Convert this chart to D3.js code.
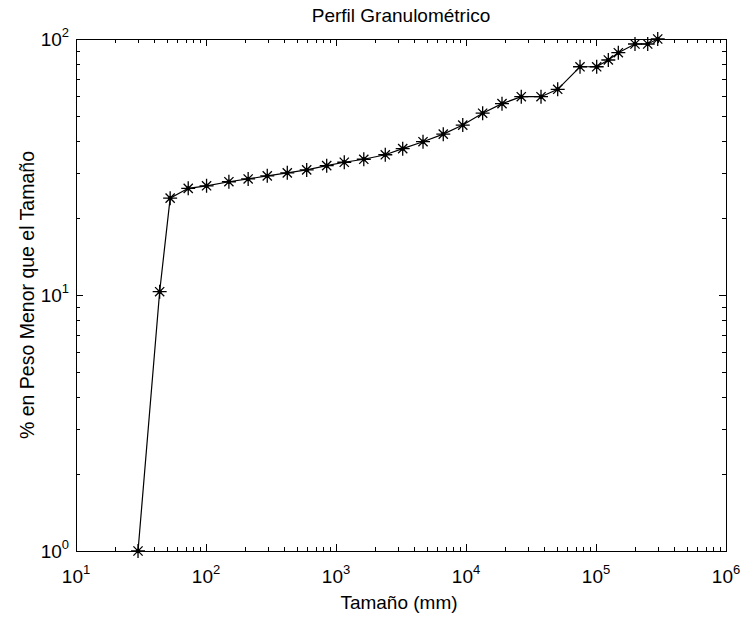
<!DOCTYPE html>
<html>
<head>
<meta charset="utf-8">
<script src="https://cdn.jsdelivr.net/npm/d3@7"></script>
<style>
	body { margin: 0; background: #fff; }
	text { font-family: "Liberation Sans", Arial, Helvetica, sans-serif; fill: #000; }
</style>
</head>
<body>
<div id="chart"></div>
<script>
	// sieve sizes (mm) and cumulative % passing
	const sizes = [30, 44, 53, 73, 101, 150, 211, 296, 422, 595, 848, 1158, 1636, 2394, 3259,
		4670, 6686, 9440, 13430, 18920, 26620, 37760, 50740, 75340, 101200, 124400, 148500,
		199500, 249900, 298400];
	const passing = [1.0, 10.3, 23.9, 26.1, 26.7, 27.7, 28.4, 29.2, 30.0, 30.8, 32.0, 33.0,
		33.9, 35.3, 37.3, 39.7, 42.5, 46.1, 51.3, 55.9, 59.5, 59.5, 63.6, 77.9, 77.9, 82.8,
		88.4, 95.6, 95.6, 100];
	const xExponents = [1, 2, 3, 4, 5, 6];
	const yExponents = [0, 1, 2];

	const width = 744, height = 619;
	const margin = { top: 39, right: 18, bottom: 68, left: 76 };

	const svg = d3.select("#chart").append("svg")
		.attr("width", width).attr("height", height);

	const xScale = d3.scaleLog()
		.domain([10, 1e6])
		.range([margin.left, width - margin.right]);
	const yScale = d3.scaleLog()
		.domain([1, 100])
		.range([height - margin.bottom, margin.top]);

	const x0 = xScale.range()[0], x1 = xScale.range()[1];
	const y0 = yScale.range()[0], y1 = yScale.range()[1];

	const xMajor = xExponents.map(e => Math.pow(10, e));
	const yMajor = yExponents.map(e => Math.pow(10, e));
	const xMinor = xScale.ticks().filter(v => !xMajor.some(m => Math.abs(m - v) < 1e-6 * m));
	const yMinor = yScale.ticks().filter(v => !yMajor.some(m => Math.abs(m - v) < 1e-6 * m));

	// axes with inward ticks on all four sides (box on)
	const axisStyle = g => {
		g.selectAll('.domain').remove();
		g.selectAll('line').attr('stroke', '#000').attr('shape-rendering', 'crispEdges');
		g.selectAll('text').remove();
	};
	const MAJ = 7, MIN = 4;
	svg.append('g').attr('transform', `translate(0,${y0})`)
		.call(d3.axisBottom(xScale).tickValues(xMajor).tickSize(-MAJ)).call(axisStyle);
	svg.append('g').attr('transform', `translate(0,${y0})`)
		.call(d3.axisBottom(xScale).tickValues(xMinor).tickSize(-MIN)).call(axisStyle);
	svg.append('g').attr('transform', `translate(0,${y1})`)
		.call(d3.axisTop(xScale).tickValues(xMajor).tickSize(-MAJ)).call(axisStyle);
	svg.append('g').attr('transform', `translate(0,${y1})`)
		.call(d3.axisTop(xScale).tickValues(xMinor).tickSize(-MIN)).call(axisStyle);
	svg.append('g').attr('transform', `translate(${x0},0)`)
		.call(d3.axisLeft(yScale).tickValues(yMajor).tickSize(-MAJ)).call(axisStyle);
	svg.append('g').attr('transform', `translate(${x0},0)`)
		.call(d3.axisLeft(yScale).tickValues(yMinor).tickSize(-MIN)).call(axisStyle);
	svg.append('g').attr('transform', `translate(${x1},0)`)
		.call(d3.axisRight(yScale).tickValues(yMajor).tickSize(-MAJ)).call(axisStyle);
	svg.append('g').attr('transform', `translate(${x1},0)`)
		.call(d3.axisRight(yScale).tickValues(yMinor).tickSize(-MIN)).call(axisStyle);

	svg.append('rect')
		.attr('x', x0).attr('y', y1)
		.attr('width', x1 - x0).attr('height', y0 - y1)
		.attr('fill', 'none').attr('stroke', '#000').attr('stroke-width', 1)
		.attr('shape-rendering', 'crispEdges');

	// tick labels: 10 with superscript exponent
	const xLab = svg.append('g').selectAll('text').data(xExponents).enter().append('text')
		.attr('x', d => xScale(Math.pow(10, d)))
		.attr('y', y0 + 32)
		.attr('text-anchor', 'middle')
		.style('font-size', '19px');
	xLab.append('tspan').text('10');
	xLab.append('tspan').attr('dy', -9).style('font-size', '13px').text(d => d);

	const yLab = svg.append('g').selectAll('text').data(yExponents).enter().append('text')
		.attr('x', x0 - 7)
		.attr('y', d => yScale(Math.pow(10, d)) + 7)
		.attr('text-anchor', 'end')
		.style('font-size', '19px');
	yLab.append('tspan').text('10');
	yLab.append('tspan').attr('dy', -9).style('font-size', '13px').text(d => d);

	// titles
	svg.append('text')
		.attr('x', (x0 + x1) / 2).attr('y', 22)
		.attr('text-anchor', 'middle')
		.style('font-size', '19px')
		.text('Perfil Granulométrico');
	svg.append('text')
		.attr('x', (x0 + x1) / 2 - 2).attr('y', 609)
		.attr('text-anchor', 'middle')
		.style('font-size', '19px')
		.text('Tamaño (mm)');
	svg.append('text')
		.attr('transform', `translate(34,${(y0 + y1) / 2}) rotate(-90)`)
		.attr('text-anchor', 'middle')
		.style('font-size', '19.5px')
		.text('% en Peso Menor que el Tamaño');

	// data line + asterisk markers
	const data = sizes.map((s, i) => ({ size: s, pct: passing[i] }));
	const line = d3.line()
		.x(d => xScale(d.size))
		.y(d => yScale(d.pct));
	svg.append('path')
		.datum(data)
		.attr('d', line)
		.attr('fill', 'none')
		.attr('stroke', '#000')
		.attr('stroke-width', 1.2);

	const star = "M0,-7V7M-7,0H7M-4.6,-4.6L4.6,4.6M-4.6,4.6L4.6,-4.6";
	const marks = svg.append('g').selectAll('g').data(data).enter().append('g')
		.attr('transform', d => `translate(${xScale(d.size)},${yScale(d.pct)})`);
	marks.append('path')
		.attr('d', star)
		.attr('stroke', '#000')
		.attr('stroke-width', 1.3)
		.attr('fill', 'none');
	marks.append('circle').attr('r', 2.2).attr('fill', '#000');
</script>
</body>
</html>
